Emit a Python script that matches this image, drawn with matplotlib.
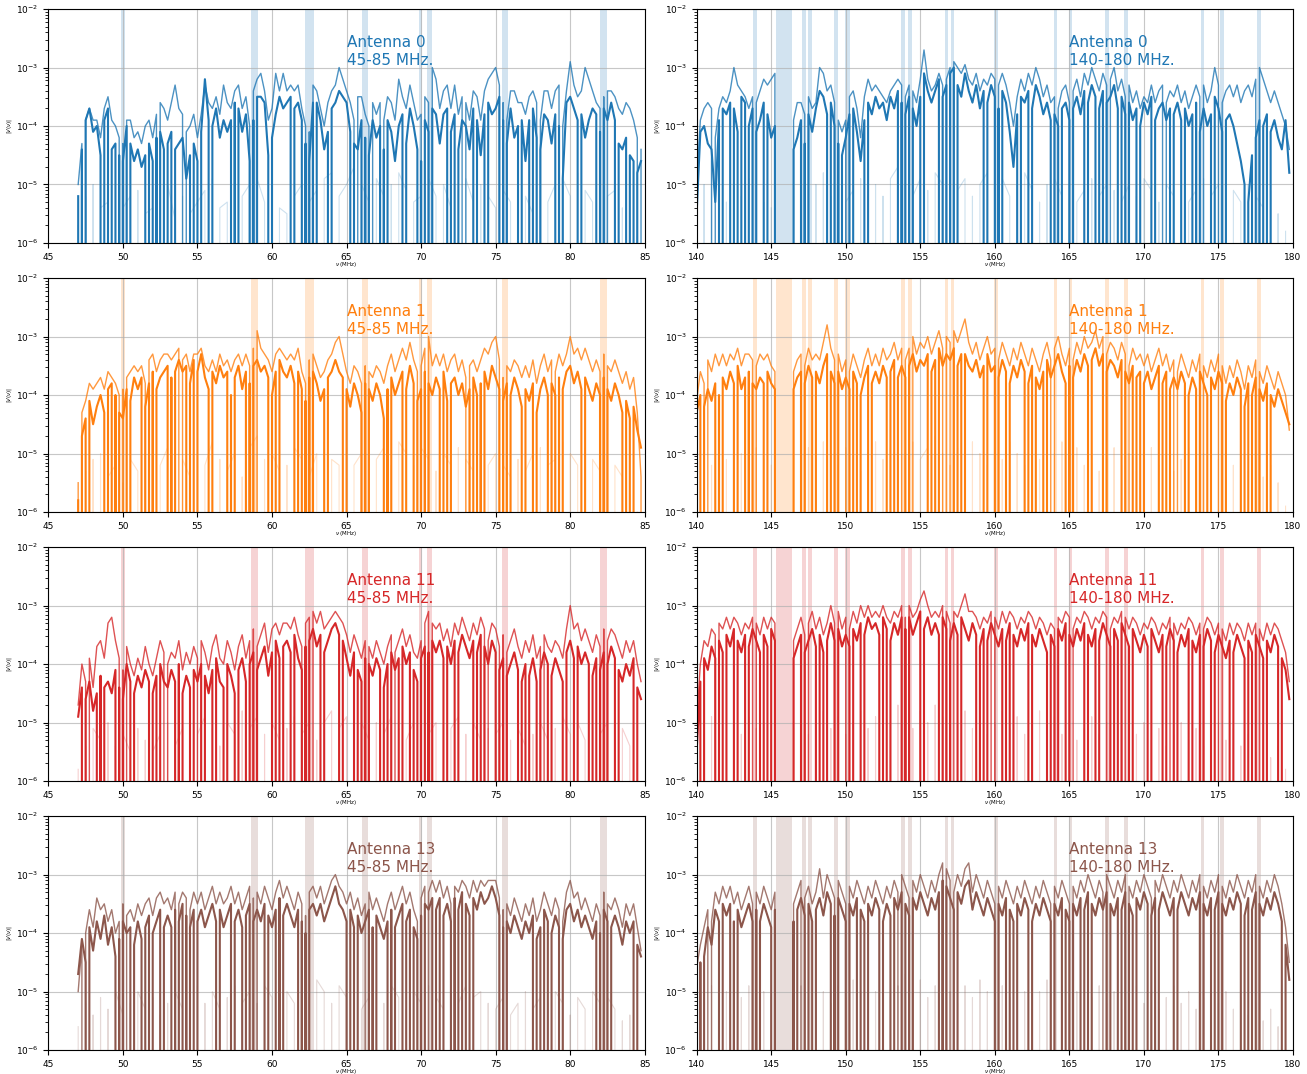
import numpy as np
import matplotlib
matplotlib.use("Agg")
import matplotlib.pyplot as plt

# channel grids (MHz): main/thin lines every 0.25 MHz, faint line every 0.5 MHz
lo_start, hi_start = 47.0, 140.0
step, faint_step = 0.25, 0.5

antennas = [0, 1, 11, 13]
colors = ["tab:blue", "tab:orange", "tab:red", "tab:brown"]

# flagged RFI bands
lo_bands = [(49.85, 50.12), (58.6, 59.05), (62.2, 62.8), (66.05, 66.45),
            (69.88, 70.08), (70.38, 70.75), (75.4, 75.85), (82.0, 82.45)]
hi_bands = [(143.8, 144.07), (145.35, 146.4), (147.07, 147.31), (147.47, 147.73),
            (149.2, 149.47), (149.98, 150.31), (153.73, 153.98), (154.18, 154.47),
            (156.65, 156.85), (157.07, 157.27), (159.95, 160.18), (163.95, 164.18),
            (164.95, 165.18), (167.4, 167.65), (168.69, 168.93), (173.8, 174.05),
            (175.09, 175.35), (177.6, 177.85)]

nan = np.nan

# ---------------- log10 |V| : 45-85 MHz ----------------
a0_lo = [-5.2, -4.4, -3.9, -3.7, -4.1, -4.0, -4.5, -3.9,
         -3.7, -4.4, -4.3, -4.5, -4.6, -4.0, -4.3, -4.6,
         -4.4, -4.7, -4.5, -4.3, -4.6, -4.2, -4.1, -4.4,
         -4.3, -4.1, -4.4, -4.3, -4.2, -4.9, -4.5, -4.3,
         -4.6, -4.1, -3.2, -3.9, -4.0, -3.7, -4.2, -3.9,
         -4.1, -3.9, -3.6, -3.7, -4.1, -3.8, -4.6, -3.9,
         -3.5, -3.5, -3.6, -4.5, -4.2, -3.8, -3.5, -3.7,
         -3.6, -3.5, -3.7, -3.6, -3.9, -4.3, -4.6, -3.6,
         -3.6, -3.9, -4.4, -4.1, -3.7, -3.6, -3.4, -3.5,
         -3.6, -4.1, -4.3, -4.4, -3.9, -4.2, -4.5, -3.9,
         -4.2, -4.0, -4.4, -3.9, -4.1, -4.6, -4.0, -3.8,
         -4.3, -3.7, -4.0, -4.4, -4.6, -3.9, -4.1, -3.7,
         -3.8, -4.3, -3.8, -3.7, -4.1, -3.8, -4.4, -3.9,
         -4.0, -4.4, -3.7, -3.9, -4.5, -3.8, -3.6, -3.8,
         -3.7, -3.5, -3.9, -4.3, -3.7, -4.2, -4.0, -3.9,
         -4.6, -3.9, -3.7, -4.2, -4.4, -3.8, -3.9, -4.3,
         -3.8, -4.0, -4.9, -3.6, -3.5, -3.7, -3.9, -3.8,
         -4.2, -3.9, -3.7, -3.8, -4.1, -3.7, -3.9, -3.6,
         -3.9, -4.3, -4.4, -4.2, -4.5, -4.6, -4.8, -4.6]
a0_lo_thin = [-5.0, -4.3, -3.9, -3.7, -3.9, -3.9, -4.2, -3.7,
              -3.5, -3.9, -4.0, -4.2, -4.3, -3.9, -3.9, -4.2,
              -4.1, -4.3, -4.0, -3.9, -4.2, -3.8, -3.6, -3.7,
              -3.9, -3.6, -3.3, -3.7, -3.8, -4.1, -4.0, -3.8,
              -4.2, -3.8, -3.3, -3.6, -3.7, -3.5, -3.8, -3.3,
              -3.6, -3.7, -3.4, -3.3, -3.7, -3.5, -4.0, -3.4,
              -3.2, -3.1, -3.4, -3.9, -3.7, -3.1, -3.4, -3.1,
              -3.4, -3.3, -3.4, -3.3, -3.7, -4.0, -4.1, -3.3,
              -3.4, -3.7, -4.0, -3.6, -3.4, -3.3, -3.0, -3.2,
              -3.4, -3.6, -3.9, -3.5, -3.5, -3.8, -4.0, -3.6,
              -3.8, -3.6, -3.9, -3.5, -3.6, -3.9, -3.2, -3.5,
              -3.7, -3.3, -3.6, -3.9, -3.8, -3.5, -3.6, -3.0,
              -3.2, -3.7, -3.4, -3.3, -3.7, -3.3, -3.8, -3.5,
              -3.6, -3.9, -3.4, -3.5, -3.9, -3.4, -3.2, -3.1,
              -3.0, -3.3, -3.6, -3.9, -3.4, -3.4, -3.6, -3.6,
              -3.8, -3.5, -3.4, -3.6, -3.9, -3.4, -3.4, -3.7,
              -3.4, -3.3, -4.0, -3.4, -2.9, -3.3, -3.5, -3.4,
              -3.0, -3.2, -3.4, -3.6, -3.7, -3.5, -3.4, -3.4,
              -3.5, -3.7, -3.8, -3.6, -3.7, -3.9, -4.2, -4.4]
a0_lo_faint = [-5.7, -5.2, -5.0, -5.4, -5.3, -5.6, -5.4, -5.2,
               -5.1, -5.5, -5.4, -5.3, -5.0, -5.6, -5.2, -5.5,
               -5.3, -5.1, -4.9, -5.4, -5.3, -5.6, -5.2, -5.0,
               -4.9, -5.3, -5.1, -5.4, -5.5, -5.2, -5.0, -5.3,
               -5.1, -4.9, -4.8, -5.2, -5.0, -4.7, -5.0, -5.3,
               -4.9, -5.2, -5.0, -4.8, -5.1, -5.3, -5.2, -4.9,
               -5.2, -5.0, -5.4, -5.1, -4.9, -5.3, -5.0, -5.2,
               -5.4, -5.1, -5.3, -5.0, -5.2, -5.5, -5.1, -5.3,
               -5.0, -4.9, -5.2, -4.8, -5.1, -5.3, -5.0, -5.2,
               -5.1, -5.4, -5.6, -5.9]
a0_lo_zero = [47.1, 47.4, 48.6, 49.1, 49.6, 49.9, 50.4, 51.6, 52.1, 52.4, 52.9,
              53.4, 54.6, 55.1, 55.9, 57.4, 57.6, 58.6, 58.9, 59.9, 61.4, 62.1,
              62.4, 62.9, 63.9, 65.4, 66.1, 66.4, 67.4, 67.6, 68.9, 69.9, 70.1,
              70.6, 71.9, 72.4, 73.6, 74.4, 75.4, 75.6, 76.6, 77.4, 77.9, 79.1,
              79.4, 80.6, 81.9, 82.1, 83.1, 83.9, 84.4]
a0_lo_thin_zero = [47.4, 49.9, 50.1, 52.4, 54.1, 58.6, 62.4, 62.6, 65.6, 66.6,
                   67.4, 70.1, 70.6, 72.9, 75.4, 75.6, 77.9, 79.4, 82.1, 82.4, 84.6]
a0_lo_faint_zero = [47.2, 47.8, 48.3, 49.2, 49.7, 50.8, 51.3, 52.2, 52.7, 53.8,
                    54.3, 55.7, 56.2, 57.3, 57.8, 58.7, 59.8, 60.3, 61.2, 62.3,
                    63.2, 64.3, 65.7, 66.8, 67.7, 68.2, 69.3, 70.2, 71.3, 72.2,
                    72.8, 73.7, 74.2, 75.3, 76.2, 76.8, 77.7, 78.3, 79.2, 80.3,
                    80.8, 81.7, 82.2, 83.3, 83.8, 84.3]

a1_lo = [-5.8, -4.7, -4.4, -4.1, -4.5, -4.2, -4.0, -4.3,
         -3.9, -3.8, -4.0, -4.3, -4.4, -3.9, -4.1, -3.7,
         -3.9, -3.7, -4.2, -3.8, -3.6, -3.9, -3.7, -3.6,
         -3.5, -3.7, -3.6, -3.4, -3.6, -3.5, -3.8, -3.4,
         -3.6, -3.3, -3.7, -3.9, -3.6, -3.8, -3.5, -3.7,
         -3.6, -4.0, -3.7, -3.5, -3.9, -3.6, -3.8, -3.5,
         -3.4, -3.6, -3.5, -3.7, -4.0, -3.6, -3.4, -3.6,
         -3.7, -3.5, -3.8, -3.6, -3.9, -4.1, -3.7, -3.6,
         -3.8, -4.1, -3.9, -3.7, -3.6, -3.4, -3.6, -3.7,
         -3.9, -4.2, -3.8, -4.0, -4.3, -3.8, -3.9, -4.1,
         -3.8, -4.0, -4.4, -3.9, -3.7, -4.0, -3.8, -3.6,
         -3.9, -3.5, -3.8, -4.1, -3.9, -3.6, -3.8, -4.0,
         -3.7, -3.9, -3.6, -4.1, -3.8, -3.7, -4.0, -3.8,
         -4.2, -3.9, -3.7, -4.0, -3.8, -3.6, -3.9, -3.5,
         -3.7, -3.9, -4.1, -3.8, -4.0, -3.7, -3.9, -4.2,
         -3.9, -4.1, -3.8, -4.3, -3.9, -3.7, -4.0, -3.8,
         -4.0, -3.7, -3.9, -3.6, -3.5, -3.8, -3.6, -3.9,
         -3.7, -3.9, -4.1, -3.8, -4.0, -3.7, -3.9, -4.1,
         -3.8, -4.0, -4.3, -4.1, -4.4, -4.2, -4.6, -4.9]
a1_lo_thin = [-5.5, -4.3, -4.1, -3.8, -3.9, -3.8, -3.7, -3.9,
              -3.6, -3.7, -3.8, -4.0, -3.9, -3.7, -3.6, -3.5,
              -3.6, -3.5, -3.8, -3.4, -3.3, -3.6, -3.4, -3.3,
              -3.3, -3.4, -3.3, -3.2, -3.4, -3.3, -3.6, -3.3,
              -3.3, -3.2, -3.5, -3.6, -3.4, -3.6, -3.3, -3.5,
              -3.4, -3.6, -3.4, -3.3, -3.5, -3.3, -3.5, -3.2,
              -2.9, -3.2, -3.3, -3.4, -3.6, -3.3, -3.2, -3.3,
              -3.4, -3.3, -3.4, -3.2, -3.6, -3.8, -3.4, -3.3,
              -3.5, -3.7, -3.6, -3.4, -3.3, -3.1, -3.0, -3.3,
              -3.6, -3.8, -3.5, -3.6, -3.8, -3.5, -3.6, -3.7,
              -3.5, -3.6, -3.8, -3.5, -3.3, -3.6, -3.4, -3.2,
              -3.4, -3.1, -3.4, -3.6, -3.5, -3.2, -3.0, -3.5,
              -3.3, -3.5, -3.3, -3.6, -3.4, -3.3, -3.6, -3.4,
              -3.7, -3.5, -3.4, -3.6, -3.4, -3.2, -3.3, -3.1,
              -3.0, -3.4, -3.7, -3.5, -3.6, -3.4, -3.5, -3.7,
              -3.5, -3.7, -3.4, -3.8, -3.5, -3.3, -3.6, -3.4,
              -3.6, -3.3, -3.5, -3.3, -3.0, -3.3, -3.2, -3.4,
              -3.2, -3.4, -3.6, -3.4, -3.6, -3.3, -3.5, -3.6,
              -3.4, -3.6, -3.8, -3.6, -3.9, -3.7, -4.3, -5.4]
a1_lo_faint = [-5.9, -5.3, -5.1, -5.0, -5.4, -5.2, -5.5, -5.1,
               -5.3, -5.0, -5.4, -5.2, -4.9, -5.3, -5.1, -5.4,
               -5.0, -5.2, -4.8, -5.1, -5.3, -5.0, -5.4, -4.9,
               -4.7, -5.1, -5.0, -5.3, -5.2, -4.9, -5.1, -5.4,
               -5.0, -4.8, -5.1, -5.2, -4.9, -5.2, -5.0, -5.3,
               -5.1, -4.9, -5.2, -4.8, -5.0, -5.2, -4.9, -5.1,
               -5.3, -5.0, -5.2, -4.9, -5.1, -5.3, -5.0, -5.2,
               -5.0, -5.2, -5.4, -5.1, -5.3, -5.0, -4.9, -5.2,
               -5.1, -4.8, -5.0, -5.2, -4.9, -5.1, -5.3, -5.0,
               -5.2, -5.4, -5.7, -6.0]
a1_lo_zero = [47.1, 47.6, 48.9, 49.4, 49.6, 50.4, 51.4, 51.9, 52.1, 53.1, 53.4,
              54.4, 54.9, 55.9, 57.1, 57.4, 58.4, 58.6, 59.9, 60.4, 61.6, 62.1,
              62.4, 62.6, 63.6, 64.9, 66.1, 66.4, 67.6, 67.9, 68.9, 69.6, 70.1,
              70.4, 71.4, 71.9, 73.4, 73.9, 74.1, 75.4, 75.9, 76.9, 77.6, 78.6,
              79.1, 79.4, 80.9, 82.1, 82.4, 83.6, 84.1]
a1_lo_thin_zero = [47.1, 49.9, 50.1, 51.6, 53.9, 58.6, 58.9, 62.4, 62.6, 66.1,
                   66.4, 69.9, 70.4, 73.1, 75.4, 75.6, 78.9, 82.1, 82.4, 84.9]
a1_lo_faint_zero = [47.3, 47.7, 48.2, 48.8, 49.7, 50.3, 51.2, 51.8, 52.3, 53.2,
                    53.7, 54.8, 55.3, 56.2, 56.7, 57.8, 58.3, 59.2, 59.7, 60.8,
                    61.3, 62.2, 63.3, 63.8, 64.7, 65.2, 66.3, 66.8, 67.7, 68.3,
                    69.2, 69.8, 70.7, 71.2, 72.3, 72.8, 73.7, 74.3, 75.2, 76.3,
                    76.8, 77.7, 78.2, 79.3, 79.8, 80.7, 81.3, 82.2, 82.8, 83.7, 84.2]

a11_lo = [-4.9, -4.4, -4.6, -4.3, -4.8, -4.5, -4.2, -4.4,
          -4.3, -4.5, -4.1, -4.4, -4.6, -4.0, -4.3, -4.5,
          -4.2, -4.4, -4.1, -4.3, -4.5, -4.2, -4.0, -4.3,
          -4.4, -4.1, -4.3, -4.0, -4.5, -4.2, -4.4, -4.1,
          -4.3, -4.0, -4.2, -4.5, -4.1, -3.9, -4.3, -4.4,
          -4.0, -4.2, -4.5, -4.1, -3.9, -4.3, -4.0, -3.8,
          -4.1, -3.9, -3.7, -4.2, -3.8, -3.6, -3.9, -3.7,
          -3.6, -3.8, -3.5, -3.9, -4.1, -3.7, -3.6, -3.4,
          -3.7, -3.5, -3.8, -3.6, -3.4, -3.3, -3.5, -3.6,
          -3.9, -4.2, -3.8, -4.1, -4.3, -3.9, -4.0, -4.2,
          -3.9, -4.1, -4.4, -4.0, -3.8, -4.1, -3.9, -3.7,
          -4.0, -3.8, -4.1, -4.3, -3.9, -3.7, -3.8, -3.6,
          -3.8, -3.6, -3.9, -3.7, -4.0, -3.6, -3.8, -3.5,
          -3.7, -3.9, -3.6, -3.8, -3.5, -3.7, -4.0, -3.6,
          -3.8, -4.1, -3.9, -4.2, -4.0, -3.8, -4.1, -4.3,
          -4.0, -4.2, -3.9, -4.3, -4.1, -3.8, -4.0, -4.2,
          -3.9, -4.1, -4.3, -3.8, -3.6, -3.9, -3.7, -4.0,
          -3.8, -4.0, -4.2, -3.9, -4.1, -3.8, -4.0, -3.7,
          -3.9, -4.1, -4.3, -4.0, -4.2, -3.9, -4.4, -4.6]
a11_lo_thin = [-4.7, -4.0, -4.3, -3.9, -4.4, -3.7, -3.6, -3.9,
               -3.3, -3.2, -3.6, -3.9, -4.1, -3.7, -4.0, -4.2,
               -3.9, -4.1, -3.7, -4.0, -4.2, -3.9, -3.6, -3.8,
               -4.0, -3.8, -3.9, -3.6, -4.1, -3.8, -4.0, -3.7,
               -3.9, -3.6, -3.8, -4.1, -3.7, -3.5, -3.9, -4.0,
               -3.6, -3.8, -4.1, -3.7, -3.5, -3.9, -3.6, -3.4,
               -3.7, -3.5, -3.3, -3.8, -3.4, -3.3, -3.5, -3.3,
               -3.3, -3.4, -3.2, -3.5, -3.7, -3.3, -3.2, -3.1,
               -3.3, -3.1, -3.4, -3.3, -3.2, -3.1, -3.2, -3.3,
               -3.5, -3.8, -3.5, -3.7, -3.9, -3.6, -3.7, -3.9,
               -3.6, -3.8, -4.0, -3.7, -3.5, -3.8, -3.6, -3.4,
               -3.7, -3.5, -3.8, -3.9, -3.6, -3.3, -3.1, -3.3,
               -3.4, -3.3, -3.6, -3.4, -3.7, -3.3, -3.5, -3.2,
               -3.4, -3.6, -3.3, -3.5, -3.2, -3.4, -3.6, -3.3,
               -3.4, -3.7, -3.5, -3.8, -3.6, -3.4, -3.7, -3.9,
               -3.6, -3.8, -3.5, -3.9, -3.7, -3.5, -3.7, -3.8,
               -3.6, -3.7, -3.9, -3.4, -3.0, -3.4, -3.3, -3.6,
               -3.4, -3.6, -3.8, -3.5, -3.7, -3.4, -3.6, -3.4,
               -3.5, -3.7, -3.9, -3.6, -3.8, -3.6, -4.0, -4.3]
a11_lo_faint = [-5.8, -5.4, -5.1, -5.3, -5.0, -5.4, -5.2, -5.5,
                -5.1, -5.3, -5.5, -5.2, -5.0, -5.4, -5.1, -5.3,
                -5.2, -4.9, -5.1, -5.4, -5.0, -5.2, -4.8, -5.1,
                -4.9, -5.2, -5.0, -5.3, -5.1, -4.9, -5.2, -5.0,
                -5.3, -5.0, -4.8, -5.1, -4.9, -5.2, -5.0, -5.3,
                -5.0, -5.2, -4.9, -5.1, -5.3, -5.0, -4.8, -5.2,
                -5.0, -5.3, -5.1, -4.9, -5.2, -5.0, -5.3, -5.1,
                -5.2, -5.0, -5.3, -5.1, -5.4, -5.2, -5.0, -5.3,
                -5.1, -4.9, -5.2, -5.0, -5.3, -5.1, -5.2, -5.0,
                -5.3, -5.1, -5.4, -5.7]
a11_lo_zero = [47.4, 48.4, 48.6, 49.6, 49.9, 50.6, 51.9, 52.4, 53.6, 53.9, 54.6,
               55.4, 56.1, 56.9, 57.6, 58.4, 58.9, 60.1, 60.6, 61.4, 62.1, 62.4,
               63.4, 64.6, 65.6, 66.1, 66.4, 67.4, 67.9, 68.6, 69.4, 69.9, 70.4,
               70.6, 71.6, 72.4, 73.6, 74.1, 75.1, 75.6, 76.6, 77.1, 77.9, 78.6,
               79.6, 80.4, 81.4, 81.9, 82.4, 83.1, 84.4]
a11_lo_thin_zero = [47.6, 49.9, 50.1, 52.9, 55.1, 58.6, 58.9, 62.1, 62.6, 66.4,
                    68.1, 70.1, 70.6, 74.4, 75.4, 75.6, 78.1, 82.1, 82.4]
a11_lo_faint_zero = [47.2, 47.8, 48.7, 49.3, 49.8, 50.7, 51.2, 51.8, 52.7, 53.3,
                     54.2, 54.8, 55.7, 56.3, 56.8, 57.7, 58.2, 59.3, 59.8, 60.7,
                     61.2, 61.8, 62.7, 63.3, 64.2, 65.3, 65.8, 66.7, 67.2, 68.3,
                     68.8, 69.7, 70.3, 71.2, 71.8, 72.7, 73.2, 74.3, 74.8, 75.7,
                     76.3, 77.2, 77.8, 78.7, 79.3, 80.2, 81.3, 81.8, 82.7, 83.2, 84.3]

a13_lo = [-4.7, -4.1, -4.5, -3.9, -4.3, -3.8, -4.1, -3.7,
          -4.2, -3.9, -4.4, -4.1, -3.8, -4.0, -3.9, -4.2,
          -3.8, -4.1, -3.9, -3.7, -4.0, -3.8, -3.6, -3.9,
          -3.7, -3.9, -3.6, -3.8, -3.5, -3.7, -3.9, -3.6,
          -3.8, -3.6, -3.9, -3.7, -3.5, -3.8, -3.6, -3.9,
          -3.7, -3.5, -3.8, -3.6, -3.9, -3.7, -3.5, -3.8,
          -3.6, -3.8, -3.5, -3.7, -3.9, -3.6, -3.4, -3.7,
          -3.5, -3.7, -3.9, -3.6, -3.8, -4.0, -3.6, -3.5,
          -3.7, -3.5, -3.8, -3.6, -3.4, -3.2, -3.5, -3.6,
          -3.8, -3.6, -3.9, -3.7, -4.0, -3.8, -3.6, -3.9,
          -3.7, -3.9, -4.1, -3.8, -3.6, -3.9, -3.7, -3.5,
          -3.8, -3.6, -3.9, -4.1, -3.7, -3.5, -3.6, -3.4,
          -3.6, -3.4, -3.7, -3.5, -3.8, -3.4, -3.6, -3.3,
          -3.5, -3.7, -3.4, -3.6, -3.3, -3.5, -3.4, -3.2,
          -3.4, -3.7, -3.9, -3.8, -4.0, -3.7, -3.9, -4.1,
          -3.8, -4.0, -3.7, -4.1, -3.9, -3.6, -3.8, -4.0,
          -3.7, -3.9, -4.1, -3.6, -3.5, -3.8, -3.6, -3.9,
          -3.7, -3.9, -4.1, -3.8, -4.0, -3.6, -3.8, -3.9,
          -3.7, -3.9, -4.2, -3.8, -4.0, -3.8, -4.2, -4.4]
a13_lo_thin = [-5.0, -4.2, -4.0, -3.6, -3.9, -3.4, -3.6, -3.5,
               -3.8, -3.6, -4.0, -3.8, -3.5, -3.7, -3.6, -3.8,
               -3.5, -3.7, -3.5, -3.4, -3.7, -3.4, -3.3, -3.5,
               -3.4, -3.6, -3.3, -3.5, -3.3, -3.4, -3.6, -3.3,
               -3.5, -3.3, -3.6, -3.4, -3.2, -3.5, -3.3, -3.5,
               -3.4, -3.2, -3.5, -3.3, -3.6, -3.4, -3.2, -3.4,
               -3.3, -3.5, -3.2, -3.4, -3.6, -3.3, -3.1, -3.4,
               -3.2, -3.4, -3.6, -3.3, -3.5, -3.7, -3.3, -3.2,
               -3.4, -3.2, -3.5, -3.3, -3.1, -3.0, -3.2, -3.3,
               -3.5, -3.3, -3.6, -3.4, -3.7, -3.5, -3.3, -3.6,
               -3.4, -3.6, -3.8, -3.5, -3.3, -3.6, -3.4, -3.2,
               -3.5, -3.3, -3.6, -3.8, -3.4, -3.2, -3.3, -3.1,
               -3.3, -3.1, -3.4, -3.2, -3.5, -3.2, -3.3, -3.1,
               -3.2, -3.4, -3.1, -3.3, -3.1, -3.2, -3.1, -3.1,
               -3.1, -3.4, -3.6, -3.5, -3.7, -3.4, -3.6, -3.8,
               -3.5, -3.7, -3.4, -3.8, -3.6, -3.3, -3.5, -3.7,
               -3.4, -3.6, -3.8, -3.3, -3.1, -3.4, -3.3, -3.6,
               -3.4, -3.6, -3.8, -3.5, -3.7, -3.3, -3.5, -3.6,
               -3.4, -3.6, -3.9, -3.5, -3.7, -3.5, -3.9, -4.3]
a13_lo_faint = [-5.6, -5.2, -5.4, -5.1, -5.3, -5.0, -5.4, -5.2,
                -5.0, -5.3, -5.1, -5.4, -5.2, -5.0, -5.3, -5.1,
                -4.9, -5.2, -5.0, -5.3, -5.1, -4.9, -5.2, -5.0,
                -5.2, -4.9, -5.1, -5.3, -5.0, -5.2, -4.9, -5.1,
                -4.8, -5.0, -5.2, -4.9, -5.1, -5.0, -5.3, -5.1,
                -5.0, -5.2, -4.9, -5.1, -5.3, -5.0, -5.2, -4.9,
                -5.1, -5.3, -5.0, -5.2, -4.9, -5.1, -5.0, -5.2,
                -5.3, -5.1, -5.4, -5.2, -5.0, -5.3, -5.1, -5.2,
                -5.0, -5.2, -5.4, -5.1, -5.3, -5.0, -5.2, -5.1,
                -5.3, -5.5, -5.4, -5.8]
a13_lo_zero = [47.6, 49.6, 49.9, 50.6, 51.4, 51.9, 52.6, 53.4, 53.6, 54.1, 54.4,
               54.9, 56.4, 57.4, 58.1, 58.6, 59.6, 60.4, 60.6, 61.9, 62.1, 62.4,
               65.1, 65.6, 66.6, 66.9, 67.9, 68.1, 68.9, 69.4, 69.9, 70.1, 70.9,
               71.4, 72.1, 72.4, 72.9, 73.4, 75.4, 75.6, 77.6, 78.1, 78.6, 79.4,
               81.9, 82.1, 82.6, 84.4]
a13_lo_thin_zero = [47.4, 49.9, 50.1, 53.6, 54.4, 58.6, 58.9, 62.1, 62.4, 66.4,
                    69.9, 70.4, 72.1, 75.4, 75.6, 79.4, 82.1, 82.4]
a13_lo_faint_zero = [47.3, 47.8, 48.3, 48.7, 49.2, 50.3, 50.8, 51.7, 52.2, 52.8,
                     53.3, 54.2, 54.7, 55.3, 55.8, 56.7, 57.2, 57.8, 58.7, 59.2,
                     60.3, 60.8, 61.7, 62.3, 62.8, 63.7, 64.3, 65.2, 65.8, 66.7,
                     67.3, 67.8, 68.7, 69.3, 70.2, 70.8, 71.7, 72.3, 73.2, 74.2,
                     74.7, 75.8, 76.7, 77.3, 78.2, 78.8, 79.7, 80.3, 81.2, 82.3,
                     83.2, 83.7, 84.2]

# ---------------- log10 |V| : 140-180 MHz ----------------
a0_hi = [-5.5, -4.1, -4.0, -4.3, -4.4, -5.3, -3.9, -3.7,
         -3.8, -3.6, -3.7, -4.1, -3.5, -3.6, -4.0, -3.7,
         -4.1, -3.9, -3.6, -3.8, -4.2, -4.0, nan, nan,
         nan, nan, -4.4, -4.2, -3.9, -4.3, -3.8, -4.1,
         -3.7, -3.4, -3.5, -3.8, -3.6, -4.0, -4.3, -4.5,
         -4.2, -3.8, -3.7, -4.1, -4.6, -3.9, -3.6, -3.8,
         -3.5, -3.7, -3.6, -3.9, -3.5, -3.7, -3.4, -3.6,
         -3.8, -3.5, -3.7, -4.0, -3.5, -3.1, -3.4, -3.6,
         -3.4, -3.2, -3.5, -3.3, -3.1, -3.0, -3.3, -3.5,
         -3.1, -3.4, -3.6, -3.3, -3.7, -3.4, -3.6, -3.3,
         -3.5, -3.7, -3.4, -3.6, -4.1, -4.7, -3.8, -3.5,
         -3.6, -3.4, -3.7, -3.3, -3.5, -3.8, -3.6, -3.9,
         -3.8, -4.0, -3.7, -3.6, -3.9, -3.7, -3.5, -3.8,
         -3.4, -3.6, -3.3, -3.5, -3.7, -3.4, -3.6, -3.5,
         -3.3, -3.7, -3.5, -3.8, -3.6, -3.9, -3.7, -4.0,
         -3.6, -3.8, -3.5, -3.9, -3.7, -3.6, -3.9, -3.7,
         -3.8, -3.6, -3.9, -3.7, -4.0, -3.8, -3.6, -4.1,
         -3.7, -4.0, -3.8, -3.5, -3.7, -4.1, -3.9, -3.8,
         -4.0, -4.3, -4.6, -5.0, -5.3, -4.5, -4.2, -3.9,
         -4.0, -3.8, -4.1, -3.9, -4.2, -4.4, -3.9, -4.8]
a0_hi_thin = [-5.0, -3.9, -3.7, -3.6, -3.7, -4.2, -3.7, -3.5,
              -3.6, -3.4, -3.0, -3.3, -3.4, -3.5, -3.7, -3.5,
              -3.6, -3.4, -3.2, -3.3, -3.2, -3.1, nan, nan,
              nan, nan, -3.9, -3.6, -3.6, -3.8, -3.5, -3.7,
              -3.6, -3.0, -3.1, -3.4, -3.3, -3.6, -3.9, -4.1,
              -3.9, -3.5, -3.4, -3.7, -4.2, -3.5, -3.2, -3.4,
              -3.3, -3.4, -3.5, -3.6, -3.4, -3.3, -3.2, -3.3,
              -3.5, -3.3, -3.4, -3.6, -3.2, -2.7, -3.2, -3.4,
              -3.3, -3.1, -3.3, -3.2, -3.0, -2.9, -3.0, -3.1,
              -2.95, -3.2, -3.3, -3.1, -3.4, -3.2, -3.3, -3.1,
              -3.2, -3.3, -3.1, -3.3, -3.6, -4.0, -3.5, -3.2,
              -3.4, -3.1, -3.3, -3.0, -3.2, -3.5, -3.3, -3.6,
              -3.5, -3.7, -3.4, -3.3, -3.6, -3.4, -3.2, -3.5,
              -3.1, -3.3, -3.0, -3.2, -3.4, -3.1, -3.3, -3.2,
              -3.0, -3.4, -3.2, -3.5, -3.3, -3.6, -3.4, -3.7,
              -3.5, -3.6, -3.3, -3.6, -3.4, -3.3, -3.6, -3.4,
              -3.5, -3.3, -3.6, -3.4, -3.7, -3.5, -3.3, -3.5,
              -3.3, -3.6, -3.4, -3.0, -3.3, -3.6, -3.4, -3.3,
              -3.5, -3.3, -3.6, -3.4, -3.3, -3.5, -3.2, -3.0,
              -3.2, -3.4, -3.6, -3.4, -3.6, -3.8, -4.0, -4.4]
a0_hi_faint = [-5.8, -5.0, -4.6, -5.1, -5.3, -5.0, -5.2, -4.9,
               -5.1, -5.3, -5.4, nan, nan, -5.2, -4.9, -5.1,
               -5.0, -4.8, -5.2, -5.0, -5.3, -5.1, -4.9, -5.2,
               -5.0, -5.2, -4.9, -4.7, -5.0, -5.2, -4.9, -5.1,
               -4.8, -5.0, -5.3, -5.1, -4.9, -5.2, -5.0, -4.8,
               -5.1, -4.9, -5.2, -5.0, -4.8, -5.1, -5.3, -5.0,
               -4.9, -5.2, -5.0, -5.3, -5.1, -4.9, -5.2, -5.0,
               -5.1, -5.3, -5.0, -5.2, -4.9, -5.1, -5.3, -5.0,
               -5.2, -5.0, -5.3, -5.1, -4.9, -5.2, -5.0, -5.3,
               -5.1, -5.3, -5.0, -5.2, -5.4, -5.1, -5.5, -5.8]
a0_hi_zero = [141.6, 142.4, 142.9, 143.4, 143.9, 144.6, 145.4, 146.4, 147.1,
              147.4, 148.9, 149.4, 149.6, 150.4, 151.4, 153.6, 153.9, 154.4,
              155.1, 156.4, 156.9, 157.4, 159.4, 160.1, 160.4, 161.6, 162.4,
              163.9, 164.4, 165.1, 166.1, 166.9, 167.4, 168.4, 168.9, 169.6,
              170.6, 171.9, 172.6, 173.4, 173.6, 174.6, 175.4, 176.9, 177.4,
              177.9, 178.4]
a0_hi_thin_zero = [141.1, 143.9, 145.4, 146.4, 147.4, 149.4, 150.1, 153.9,
                   154.4, 156.6, 157.1, 160.1, 164.1, 165.1, 167.6, 168.9,
                   171.4, 173.9, 175.1, 177.6]
a0_hi_faint_zero = [140.3, 140.8, 141.2, 141.7, 142.3, 142.8, 143.3, 143.7,
                    144.2, 144.8, 146.7, 147.2, 147.8, 148.3, 148.7, 149.3,
                    149.8, 150.7, 151.2, 151.8, 152.3, 152.8, 153.7, 154.2,
                    155.3, 155.8, 156.7, 157.3, 158.2, 158.8, 159.7, 160.3,
                    161.2, 161.8, 162.7, 163.3, 163.8, 164.7, 165.2, 166.3,
                    166.8, 167.7, 168.2, 169.3, 169.8, 170.7, 171.3, 172.2,
                    172.8, 173.7, 174.3, 175.2, 175.8, 176.7, 177.3, 178.2,
                    178.8, 179.3]

a1_hi = [-4.3, -4.0, -4.2, -3.9, -4.1, -3.8, -4.0, -3.7,
         -3.9, -3.6, -3.8, -3.5, -3.9, -3.7, -3.6, -3.8,
         -3.9, -3.7, -3.8, -3.6, -3.8, -3.9, nan, nan,
         nan, nan, -3.9, -3.7, -3.6, -3.8, -3.5, -3.7,
         -3.6, -3.8, -3.5, -3.3, -3.6, -3.8, -3.6, -3.9,
         -3.7, -3.9, -3.6, -3.8, -4.0, -3.7, -3.5, -3.8,
         -3.6, -3.8, -3.5, -3.7, -3.6, -3.4, -3.7, -3.5,
         -3.7, -3.5, -3.3, -3.6, -3.4, -3.5, -3.3, -3.6,
         -3.4, -3.2, -3.5, -3.3, -3.4, -3.2, -3.5, -3.3,
         -3.3, -3.5, -3.6, -3.4, -3.7, -3.5, -3.3, -3.6,
         -3.5, -3.7, -3.4, -3.6, -3.8, -3.5, -3.7, -3.4,
         -3.6, -3.8, -3.5, -3.7, -3.9, -3.6, -3.4, -3.7,
         -3.5, -3.3, -3.6, -3.8, -3.5, -3.7, -3.4, -3.6,
         -3.3, -3.5, -3.4, -3.2, -3.5, -3.3, -3.6, -3.4,
         -3.5, -3.7, -3.4, -3.6, -3.8, -3.5, -3.7, -3.6,
         -3.8, -3.6, -3.9, -3.7, -3.5, -3.8, -3.6, -3.9,
         -3.7, -3.9, -3.6, -3.8, -4.0, -3.7, -3.9, -3.6,
         -3.8, -4.0, -3.7, -3.9, -3.6, -3.8, -4.1, -3.8,
         -4.0, -3.7, -3.9, -4.2, -3.8, -4.0, -3.7, -3.9,
         -4.1, -3.8, -4.0, -4.2, -3.9, -4.1, -4.3, -4.5]
a1_hi_thin = [-4.1, -3.6, -3.8, -3.4, -3.6, -3.3, -3.5, -3.3,
              -3.5, -3.3, -3.4, -3.2, -3.5, -3.3, -3.3, -3.4,
              -3.5, -3.3, -3.4, -3.3, -3.5, -3.6, nan, nan,
              nan, nan, -3.6, -3.4, -3.3, -3.5, -3.2, -3.4,
              -3.3, -3.4, -3.1, -2.8, -3.2, -3.4, -3.3, -3.6,
              -3.4, -3.6, -3.3, -3.5, -3.7, -3.4, -3.2, -3.5,
              -3.3, -3.5, -3.2, -3.4, -3.3, -3.1, -3.4, -3.2,
              -3.4, -3.2, -3.0, -3.3, -3.1, -3.2, -3.0, -3.3,
              -3.1, -2.9, -3.2, -3.0, -3.1, -2.9, -3.1, -2.9,
              -2.7, -3.1, -3.3, -3.1, -3.4, -3.2, -3.0, -3.3,
              -3.2, -3.4, -3.1, -3.3, -3.5, -3.2, -3.4, -3.1,
              -3.3, -3.5, -3.2, -3.4, -3.6, -3.3, -3.1, -3.4,
              -3.2, -3.0, -3.3, -3.5, -3.2, -3.4, -3.1, -3.3,
              -3.0, -3.2, -3.1, -2.9, -3.2, -3.0, -3.3, -3.1,
              -3.2, -3.4, -3.1, -3.3, -3.5, -3.2, -3.4, -3.3,
              -3.5, -3.3, -3.6, -3.4, -3.2, -3.5, -3.3, -3.6,
              -3.4, -3.6, -3.3, -3.5, -3.7, -3.4, -3.6, -3.3,
              -3.5, -3.7, -3.4, -3.6, -3.3, -3.5, -3.8, -3.5,
              -3.7, -3.4, -3.6, -3.9, -3.5, -3.7, -3.4, -3.6,
              -3.8, -3.5, -3.7, -3.9, -3.6, -3.8, -4.0, -4.6]
a1_hi_faint = [-5.3, -5.0, -5.2, -4.9, -5.1, -5.3, -5.0, -5.2,
               -4.9, -5.1, -5.2, nan, nan, -5.0, -5.2, -4.9,
               -5.1, -4.8, -5.0, -5.2, -4.9, -5.1, -5.3, -5.0,
               -4.8, -5.1, -4.9, -5.2, -5.0, -4.8, -5.1, -4.9,
               -4.7, -5.0, -5.2, -4.9, -5.1, -4.8, -5.0, -5.2,
               -4.9, -5.1, -4.8, -5.0, -5.2, -4.9, -5.1, -5.3,
               -5.0, -4.8, -5.1, -4.9, -5.2, -5.0, -5.3, -5.1,
               -4.9, -5.2, -5.0, -5.3, -5.1, -4.9, -5.2, -5.0,
               -5.3, -5.1, -4.9, -5.2, -5.0, -5.3, -5.1, -5.4,
               -5.2, -5.0, -5.3, -5.1, -5.4, -5.2, -5.5, -5.9]
a1_hi_zero = [140.4, 141.4, 141.6, 142.6, 143.4, 143.6, 144.6, 145.4, 146.4,
              147.1, 147.9, 148.9, 149.4, 150.4, 150.9, 151.6, 152.9, 153.4,
              154.1, 155.6, 156.1, 157.4, 157.9, 159.4, 160.1, 160.9, 162.1,
              162.6, 163.4, 164.9, 165.1, 166.4, 167.4, 168.6, 169.4, 169.9,
              171.1, 171.6, 172.9, 173.6, 174.4, 175.4, 176.6, 177.1, 177.6,
              178.4]
a1_hi_thin_zero = [140.6, 143.9, 145.4, 146.4, 147.1, 149.4, 150.1, 153.9,
                   154.4, 156.6, 157.1, 160.1, 163.9, 165.1, 167.4, 168.9,
                   172.1, 173.9, 175.1, 177.6]
a1_hi_faint_zero = [140.2, 140.7, 141.3, 141.8, 142.2, 142.7, 143.2, 143.8,
                    144.3, 144.7, 146.8, 147.3, 147.7, 148.2, 148.8, 149.2,
                    149.7, 150.3, 150.8, 151.3, 151.7, 152.2, 152.7, 153.3,
                    153.8, 154.3, 154.8, 155.7, 156.2, 156.8, 157.2, 157.7,
                    158.3, 158.7, 159.3, 159.8, 160.2, 160.7, 161.3, 161.7,
                    162.3, 162.8, 163.2, 163.7, 164.3, 164.8, 165.3, 165.7,
                    166.2, 166.8, 167.3, 167.8, 168.3, 168.8, 169.2, 169.7,
                    170.3, 170.8, 171.2, 171.8, 172.3, 172.7, 173.3, 173.8,
                    174.2, 174.7, 175.3, 175.8, 176.2, 176.8, 177.3, 177.7,
                    178.3, 178.8, 179.2]

a11_hi = [-5.5, -4.3, -3.9, -4.1, -3.7, -3.9, -3.6, -3.8,
          -3.5, -3.7, -3.4, -3.6, -3.8, -3.5, -3.7, -3.4,
          -3.6, -3.8, -3.5, -3.7, -3.4, -3.6, nan, nan,
          nan, nan, -3.9, -3.7, -3.5, -3.8, -3.6, -3.4,
          -3.7, -3.5, -3.8, -3.6, -3.3, -3.6, -3.4, -3.7,
          -3.5, -3.7, -3.4, -3.6, -3.3, -3.5, -3.2, -3.4,
          -3.3, -3.5, -3.2, -3.4, -3.6, -3.3, -3.5, -3.2,
          -3.4, -3.2, -3.5, -3.3, -3.1, -3.4, -3.2, -3.5,
          -3.3, -3.5, -3.2, -3.4, -3.6, -3.3, -3.5, -3.2,
          -3.4, -3.6, -3.3, -3.5, -3.7, -3.4, -3.6, -3.3,
          -3.5, -3.7, -3.4, -3.6, -3.3, -3.5, -3.7, -3.4,
          -3.6, -3.3, -3.5, -3.7, -3.4, -3.6, -3.8, -3.5,
          -3.7, -3.4, -3.6, -3.3, -3.5, -3.7, -3.4, -3.6,
          -3.3, -3.5, -3.7, -3.4, -3.6, -3.3, -3.5, -3.7,
          -3.4, -3.6, -3.3, -3.5, -3.7, -3.4, -3.6, -3.8,
          -3.5, -3.7, -3.4, -3.6, -3.8, -3.5, -3.7, -3.4,
          -3.6, -3.8, -3.5, -3.7, -3.4, -3.6, -3.8, -3.5,
          -3.7, -3.4, -3.6, -3.8, -3.5, -3.7, -3.9, -3.6,
          -3.8, -3.5, -3.7, -3.9, -3.6, -3.8, -3.5, -3.7,
          -3.9, -3.6, -3.8, -3.5, -3.7, -3.9, -4.1, -4.6]
a11_hi_thin = [-5.0, -4.0, -3.6, -3.7, -3.4, -3.5, -3.3, -3.4,
               -3.2, -3.4, -3.2, -3.3, -3.5, -3.3, -3.4, -3.2,
               -3.3, -3.5, -3.2, -3.4, -3.2, -3.3, nan, nan,
               nan, nan, -3.6, -3.4, -3.2, -3.5, -3.3, -3.1,
               -3.4, -3.2, -3.5, -3.3, -3.0, -3.3, -3.1, -3.4,
               -3.2, -3.4, -3.1, -3.3, -3.0, -3.2, -3.0, -3.2,
               -3.1, -3.2, -3.0, -3.2, -3.3, -3.1, -3.2, -3.0,
               -3.2, -3.0, -3.2, -3.1, -2.9, -2.75, -3.0, -3.2,
               -3.1, -3.2, -3.0, -3.1, -3.3, -3.1, -3.2, -3.0,
               -2.8, -3.1, -3.1, -3.2, -3.4, -3.2, -3.3, -3.1,
               -3.2, -3.4, -3.1, -3.3, -3.1, -3.2, -3.4, -3.2,
               -3.3, -3.1, -3.2, -3.4, -3.2, -3.3, -3.5, -3.3,
               -3.4, -3.2, -3.3, -3.1, -3.2, -3.4, -3.2, -3.3,
               -3.1, -3.2, -3.4, -3.2, -3.3, -3.1, -3.2, -3.4,
               -3.2, -3.3, -3.1, -3.2, -3.4, -3.2, -3.3, -3.5,
               -3.3, -3.4, -3.2, -3.3, -3.5, -3.3, -3.4, -3.2,
               -3.3, -3.5, -3.3, -3.4, -3.2, -3.3, -3.5, -3.3,
               -3.4, -3.2, -3.3, -3.5, -3.3, -3.4, -3.6, -3.3,
               -3.5, -3.3, -3.4, -3.6, -3.3, -3.5, -3.3, -3.4,
               -3.6, -3.3, -3.5, -3.3, -3.4, -3.6, -3.8, -4.3]
a11_hi_faint = [-5.6, -5.2, -4.9, -5.1, -5.3, -5.0, -5.2, -4.9,
                -5.1, -5.0, -5.3, nan, nan, -5.1, -4.9, -5.2,
                -5.0, -4.8, -5.1, -4.9, -5.2, -5.0, -4.8, -5.1,
                -4.9, -5.2, -5.0, -4.7, -4.9, -5.1, -4.8, -5.0,
                -4.7, -4.9, -5.2, -5.0, -4.8, -5.1, -4.9, -5.2,
                -5.0, -4.8, -5.1, -4.9, -5.2, -5.0, -4.8, -5.1,
                -4.9, -5.2, -5.0, -5.3, -5.1, -4.9, -5.2, -5.0,
                -5.3, -5.1, -4.9, -5.2, -5.0, -5.3, -5.1, -5.4,
                -5.2, -5.0, -5.3, -5.1, -5.4, -5.2, -5.0, -5.3,
                -5.1, -5.4, -5.2, -5.5, -5.3, -5.6, -5.4, -5.8]
a11_hi_zero = [140.4, 141.4, 141.9, 142.6, 143.4, 144.4, 144.9, 145.4, 146.4,
               147.1, 148.1, 148.6, 149.4, 150.4, 151.1, 152.4, 152.9, 153.9,
               154.1, 155.1, 156.4, 156.9, 157.6, 158.9, 159.4, 160.6, 161.1,
               162.4, 163.6, 164.1, 164.9, 166.1, 166.9, 167.9, 168.4, 169.1,
               170.4, 171.4, 172.1, 173.1, 173.9, 174.6, 175.9, 176.9, 177.4,
               178.1, 179.1]
a11_hi_thin_zero = [141.4, 143.9, 145.4, 146.4, 147.4, 149.4, 150.1, 153.9,
                    154.1, 156.6, 157.1, 159.9, 164.1, 165.1, 167.6, 168.6,
                    171.9, 173.9, 175.1, 177.6]
a11_hi_faint_zero = [140.3, 140.7, 141.2, 141.8, 142.3, 142.8, 143.2, 143.7,
                     144.3, 144.8, 146.7, 147.2, 147.8, 148.3, 148.7, 149.3,
                     149.8, 150.2, 150.7, 151.3, 151.8, 152.2, 152.8, 153.2,
                     153.7, 154.3, 154.7, 155.2, 155.8, 156.3, 156.7, 157.3,
                     157.8, 158.2, 158.8, 159.2, 159.7, 160.3, 160.8, 161.2,
                     161.7, 162.2, 162.8, 163.3, 163.8, 164.2, 164.7, 165.3,
                     165.8, 166.2, 166.7, 167.3, 167.7, 168.2, 168.8, 169.3,
                     169.7, 170.2, 170.8, 171.3, 171.7, 172.3, 172.8, 173.2,
                     173.7, 174.3, 174.8, 175.3, 175.7, 176.3, 176.7, 177.2,
                     177.8, 178.3, 178.7, 179.3]

a13_hi = [-5.0, -4.5, -4.4, -3.9, -4.2, -3.6, -3.8, -3.5,
          -3.7, -3.5, -3.8, -3.6, -3.9, -3.7, -3.5, -3.8,
          -3.6, -3.8, -3.5, -3.7, -3.9, -3.6, nan, nan,
          nan, nan, -3.8, -3.6, -3.4, -3.7, -3.5, -3.8,
          -3.6, -3.4, -3.7, -3.3, -3.5, -3.7, -3.4, -3.6,
          -3.8, -3.5, -3.7, -3.4, -3.6, -3.8, -3.5, -3.7,
          -3.4, -3.6, -3.8, -3.5, -3.7, -3.4, -3.6, -3.3,
          -3.5, -3.7, -3.4, -3.6, -3.3, -3.5, -3.7, -3.4,
          -3.6, -3.3, -3.1, -3.2, -3.4, -3.6, -3.3, -3.5,
          -3.2, -3.1, -3.6, -3.3, -3.5, -3.7, -3.4, -3.6,
          -3.8, -3.5, -3.7, -3.4, -3.6, -3.8, -3.5, -3.7,
          -3.4, -3.6, -3.8, -3.5, -3.7, -3.4, -3.6, -3.8,
          -3.5, -3.7, -3.4, -3.6, -3.8, -3.5, -3.7, -3.4,
          -3.6, -3.3, -3.5, -3.7, -3.4, -3.6, -3.3, -3.5,
          -3.7, -3.4, -3.6, -3.3, -3.5, -3.7, -3.4, -3.6,
          -3.3, -3.5, -3.7, -3.4, -3.6, -3.3, -3.5, -3.7,
          -3.4, -3.6, -3.3, -3.5, -3.7, -3.4, -3.6, -3.3,
          -3.5, -3.7, -3.4, -3.6, -3.3, -3.5, -3.7, -3.4,
          -3.6, -3.3, -3.5, -3.7, -3.4, -3.6, -3.3, -3.5,
          -3.7, -3.4, -3.6, -3.3, -3.5, -3.8, -4.2, -4.8]
a13_hi_thin = [-4.6, -4.2, -3.9, -3.6, -3.8, -3.3, -3.5, -3.2,
               -3.4, -3.2, -3.5, -3.3, -3.6, -3.4, -3.2, -3.5,
               -3.3, -3.5, -3.2, -3.4, -3.6, -3.3, nan, nan,
               nan, nan, -3.5, -3.3, -3.1, -3.4, -3.2, -3.5,
               -3.3, -2.9, -3.4, -3.0, -3.2, -3.4, -3.1, -3.3,
               -3.5, -3.2, -3.4, -3.1, -3.3, -3.5, -3.2, -3.4,
               -3.1, -3.3, -3.5, -3.2, -3.4, -3.1, -3.3, -3.0,
               -3.2, -3.4, -3.1, -3.3, -3.0, -3.2, -3.4, -3.1,
               -3.3, -3.0, -2.8, -2.9, -3.1, -3.3, -3.0, -3.2,
               -2.9, -2.8, -3.3, -3.0, -3.2, -3.4, -3.1, -3.3,
               -3.5, -3.2, -3.4, -3.1, -3.3, -3.5, -3.2, -3.4,
               -3.1, -3.3, -3.5, -3.2, -3.4, -3.1, -3.3, -3.5,
               -3.2, -3.4, -3.1, -3.3, -3.5, -3.2, -3.4, -3.1,
               -3.3, -3.0, -3.2, -3.4, -3.1, -3.3, -3.0, -3.2,
               -3.4, -3.1, -3.3, -3.0, -3.2, -3.4, -3.1, -3.3,
               -3.0, -3.2, -3.4, -3.1, -3.3, -3.0, -3.2, -3.4,
               -3.1, -3.3, -3.0, -3.2, -3.4, -3.1, -3.3, -3.0,
               -3.2, -3.4, -3.1, -3.3, -3.0, -3.2, -3.4, -3.1,
               -3.3, -3.0, -3.2, -3.4, -3.1, -3.3, -3.0, -3.2,
               -3.4, -3.1, -3.3, -3.0, -3.2, -3.5, -3.9, -4.5]
a13_hi_faint = [-5.4, -5.1, -4.9, -5.2, -5.0, -5.3, -5.1, -4.9,
                -5.2, -5.0, -5.1, nan, nan, -5.2, -4.9, -5.1,
                -4.8, -5.0, -5.2, -4.9, -5.1, -4.8, -5.0, -5.3,
                -5.0, -4.8, -5.1, -4.9, -4.7, -5.0, -4.8, -5.1,
                -4.9, -4.7, -5.0, -5.2, -4.9, -5.1, -4.8, -5.0,
                -5.2, -4.9, -5.1, -4.8, -5.0, -5.3, -5.0, -4.8,
                -5.1, -4.9, -5.2, -5.0, -4.8, -5.1, -4.9, -5.2,
                -5.0, -5.3, -5.1, -4.9, -5.2, -5.0, -5.3, -5.1,
                -4.9, -5.2, -5.0, -5.3, -5.1, -5.4, -5.2, -5.0,
                -5.3, -5.1, -5.4, -5.2, -5.5, -5.3, -5.6, -5.9]
a13_hi_zero = [140.1, 140.4, 141.6, 142.4, 142.6, 143.9, 144.1, 145.1, 145.4,
               146.4, 146.6, 147.4, 147.9, 149.1, 149.4, 150.1, 150.9, 151.4,
               152.4, 153.1, 153.9, 154.4, 156.4, 156.6, 157.4, 160.1, 160.9,
               161.4, 162.4, 163.9, 164.6, 165.1, 165.9, 166.4, 167.6, 168.4,
               168.9, 169.4, 170.4, 170.9, 172.1, 173.9, 174.6, 175.1, 176.6,
               177.1, 177.6, 179.4]
a13_hi_thin_zero = [140.9, 143.9, 145.4, 146.4, 147.1, 149.4, 150.1, 153.6,
                    154.4, 156.6, 157.1, 160.1, 163.9, 165.1, 167.4, 168.9,
                    170.6, 173.9, 175.1, 177.6]
a13_hi_faint_zero = [140.2, 140.8, 141.3, 141.7, 142.2, 142.8, 143.3, 143.7,
                     144.2, 144.7, 146.8, 147.3, 147.7, 148.2, 148.8, 149.2,
                     149.7, 150.3, 150.8, 151.2, 151.7, 152.3, 152.8, 153.3,
                     153.8, 154.2, 154.8, 155.3, 155.7, 156.2, 156.8, 157.2,
                     157.7, 158.3, 158.8, 159.3, 159.7, 160.2, 160.7, 161.3,
                     161.8, 162.2, 162.7, 163.2, 163.7, 164.3, 164.8, 165.2,
                     165.7, 166.3, 166.8, 167.2, 167.8, 168.3, 168.7, 169.2,
                     169.8, 170.3, 170.7, 171.2, 171.8, 172.2, 172.7, 173.3,
                     173.7, 174.2, 174.8, 175.2, 175.7, 176.2, 176.8, 177.2,
                     177.7, 178.2, 178.7, 179.2]

lo_sets = [
    (a0_lo, a0_lo_thin, a0_lo_faint, a0_lo_zero, a0_lo_thin_zero, a0_lo_faint_zero),
    (a1_lo, a1_lo_thin, a1_lo_faint, a1_lo_zero, a1_lo_thin_zero, a1_lo_faint_zero),
    (a11_lo, a11_lo_thin, a11_lo_faint, a11_lo_zero, a11_lo_thin_zero, a11_lo_faint_zero),
    (a13_lo, a13_lo_thin, a13_lo_faint, a13_lo_zero, a13_lo_thin_zero, a13_lo_faint_zero),
]
hi_sets = [
    (a0_hi, a0_hi_thin, a0_hi_faint, a0_hi_zero, a0_hi_thin_zero, a0_hi_faint_zero),
    (a1_hi, a1_hi_thin, a1_hi_faint, a1_hi_zero, a1_hi_thin_zero, a1_hi_faint_zero),
    (a11_hi, a11_hi_thin, a11_hi_faint, a11_hi_zero, a11_hi_thin_zero, a11_hi_faint_zero),
    (a13_hi, a13_hi_thin, a13_hi_faint, a13_hi_zero, a13_hi_thin_zero, a13_hi_faint_zero),
]


def spectrum(start, dnu, logs, zero_chans):
    """channels on a regular grid plus flagged (zero) channels in between"""
    nu = start + dnu * np.arange(len(logs))
    amp = 10.0 ** np.asarray(logs, dtype=float)
    nu = np.concatenate([nu, np.asarray(zero_chans, dtype=float)])
    amp = np.concatenate([amp, np.zeros(len(zero_chans))])
    order = np.argsort(nu, kind="stable")
    return nu[order], amp[order]


def draw_panel(ax, start, sets, bands, color, label, xlim, text_x):
    main, thin, faint, z_main, z_thin, z_faint = sets
    ax.set_yscale("log", nonpositive="clip")
    for lo, hi in bands:
        ax.axvspan(lo, hi, color=color, alpha=0.2, lw=0)
    ax.plot(*spectrum(start, faint_step, faint, z_faint), color=color, lw=0.8, alpha=0.22)
    ax.plot(*spectrum(start, step, thin, z_thin), color=color, lw=1.0, alpha=0.8)
    ax.plot(*spectrum(start, step, main, z_main), color=color, lw=1.5)
    ax.set_xlim(*xlim)
    ax.set_ylim(1e-6, 1e-2)
    ax.grid(True, which="major", color="#b0b0b0", lw=0.8, alpha=0.7)
    ax.tick_params(labelsize=6.5)
    ax.set_xlabel(r"$\nu$ (MHz)", fontsize=4)
    ax.set_ylabel(r"$|V(\nu)|$", fontsize=4)
    ax.xaxis.set_label_coords(0.5, -0.074)
    ax.yaxis.set_label_coords(-0.058, 0.5)
    ax.text(text_x, 1e-3, label, color=color, fontsize=11, va="bottom", ha="left")


fig, axes = plt.subplots(4, 2, figsize=(13.07, 10.74), dpi=100)
fig.subplots_adjust(left=0.037, right=0.9893, top=0.9916, bottom=0.0223,
                    wspace=0.087, hspace=0.15)

for i, (ant, c) in enumerate(zip(antennas, colors)):
    draw_panel(axes[i, 0], lo_start, lo_sets[i], lo_bands, c,
               "Antenna %d\n45-85 MHz." % ant, (45, 85), 65)
    draw_panel(axes[i, 1], hi_start, hi_sets[i], hi_bands, c,
               "Antenna %d\n140-180 MHz." % ant, (140, 180), 165)

fig.savefig("out.png", dpi=100)
